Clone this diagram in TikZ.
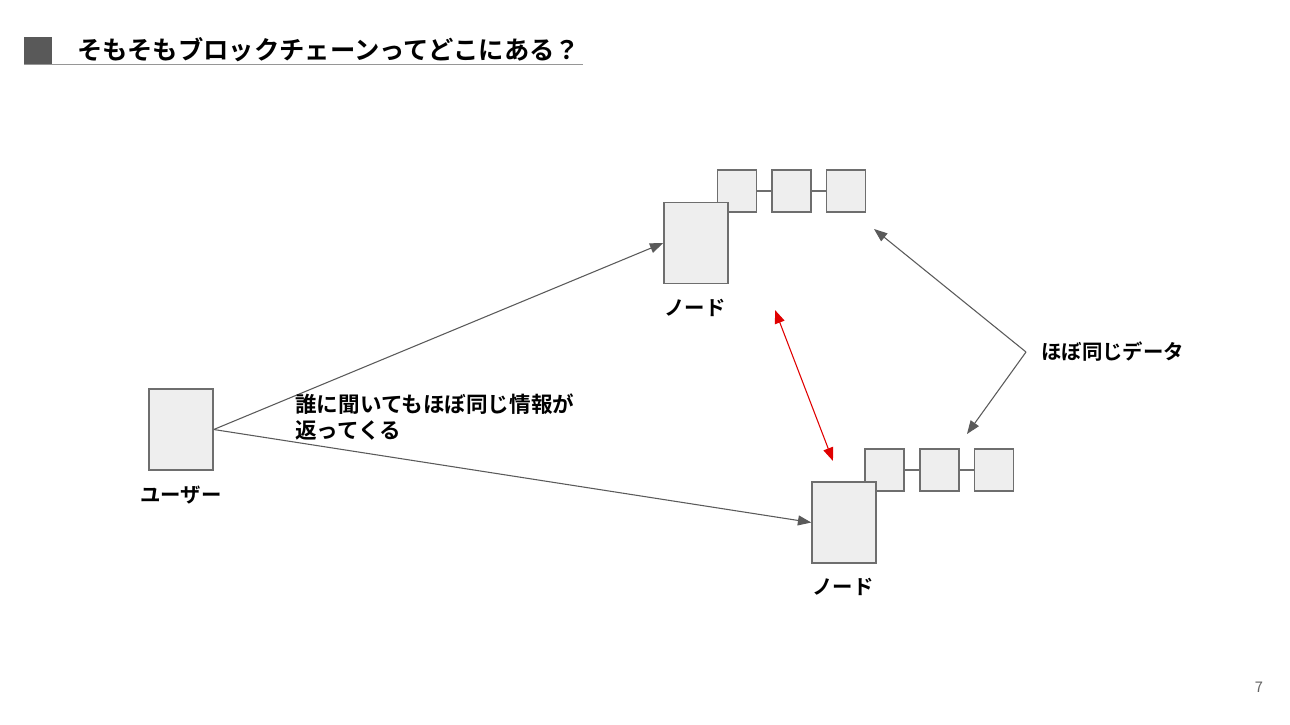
\documentclass[tikz,border=0pt]{standalone}
\usepackage{fontspec}
\setmainfont{Noto Sans CJK JP}
\newfontfamily\jpb{Noto Sans CJK JP Bold}
\usetikzlibrary{arrows.meta}
\definecolor{boxfill}{HTML}{EEEEEE}
\definecolor{boxline}{HTML}{6E6E6E}
\definecolor{arrowgray}{HTML}{5A5A5A}
\definecolor{arrowred}{HTML}{E00000}
\begin{document}
\begin{tikzpicture}[x=0.75pt,y=-0.75pt,
  bigbox/.style={draw=boxline,fill=boxfill,line width=1.1pt,minimum width=48pt,minimum height=61pt,inner sep=0pt},
  blockbox/.style={draw=boxline,fill=boxfill,line width=1.1pt,minimum width=29pt,minimum height=31.5pt,inner sep=0pt},
  link/.style={draw=boxline,line width=0.8pt},
  conn/.style={draw=arrowgray,line width=0.8pt,-{Triangle[length=10pt,width=7.5pt]}},
  redconn/.style={draw=arrowred,line width=0.8pt,{Triangle[length=10pt,width=7.5pt]}-{Triangle[length=10pt,width=7.5pt]}},
  lbl/.style={font=\jpb\fontsize{15.3pt}{19.5pt}\selectfont,inner sep=0pt,text=black}
]
\useasboundingbox (0,0) rectangle (1290,725);
\fill[white] (0,0) rectangle (1290,725);

% title
\fill[fill={rgb,255:red,89;green,89;blue,89}] (24,37) rectangle (52,64);
\draw[draw={rgb,255:red,150;green,150;blue,150},line width=0.8pt] (24,64.5) -- (583,64.5);
\node[anchor=west,inner sep=0pt,font=\jpb\fontsize{19pt}{22pt}\selectfont] (title) at (77,50) {そもそもブロックチェーンってどこにある？};

% user
\node[bigbox] (user) at (181,429.5) {};
\node[lbl] (userlbl) at (181,495) {ユーザー};

% top node
\node[blockbox] (ta) at (737,191) {};
\node[blockbox] (tb) at (791.5,191) {};
\node[blockbox] (tc) at (846,191) {};
\draw[link] (ta.east) -- (tb.west);
\draw[link] (tb.east) -- (tc.west);
\node[bigbox] (top) at (696,243) {};
\node[lbl] (toplbl) at (695,308) {ノード};

% bottom node
\node[blockbox] (ba) at (884.5,470) {};
\node[blockbox] (bb) at (939.5,470) {};
\node[blockbox] (bc) at (994,470) {};
\draw[link] (ba.east) -- (bb.west);
\draw[link] (bb.east) -- (bc.west);
\node[bigbox] (bot) at (844,522.5) {};
\node[lbl] (botlbl) at (843,587) {ノード};

% user arrows
\draw[conn] (user.east) -- (top.west);
\draw[conn] (user.east) -- (bot.west);
\node[lbl,anchor=west,align=left,font=\jpb\fontsize{16.2pt}{19.5pt}\selectfont] (info) at (295,417) {誰に聞いてもほぼ同じ情報が\\返ってくる};

% red arrow
\coordinate (r1) at (775,310);
\coordinate (r2) at (833,461);
\draw[redconn] (r1) -- (r2);

% same data
\node[lbl,anchor=west] (data) at (1041,352) {ほぼ同じデータ};
\coordinate (v) at (1026,352);
\coordinate (d1) at (874,229);
\coordinate (d2) at (967,434);
\draw[conn] (v) -- (d1);
\draw[conn] (v) -- (d2);

% page number
\node[inner sep=0pt,text={rgb,255:red,100;green,100;blue,100},font=\fontsize{11pt}{13pt}\selectfont] (page) at (1259,687) {7};
\end{tikzpicture}
\end{document}
